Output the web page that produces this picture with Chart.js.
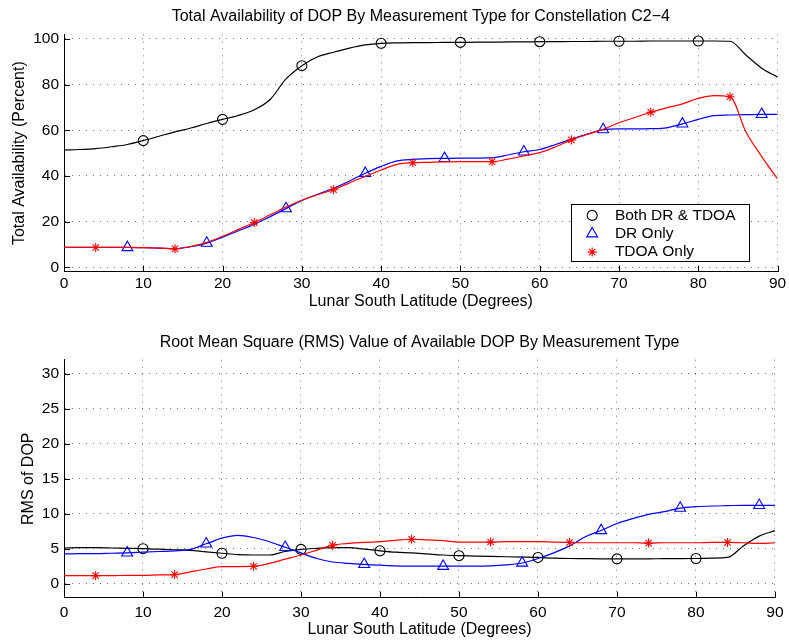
<!DOCTYPE html>
<html><head><meta charset="utf-8">
<script src="https://cdn.jsdelivr.net/npm/chart.js@4.4.1/dist/chart.umd.min.js"></script>
<style>
html,body{margin:0;padding:0;background:#fff;}
#wrap{position:relative;width:789px;height:642px;overflow:hidden;background:#fff}
canvas{position:absolute;left:0}
#c1{top:0}
#c2{top:321px}
</style></head><body>
<div id="wrap"><canvas id="c1" width="789" height="321"></canvas><canvas id="c2" width="789" height="321"></canvas></div>
<script>
// ---- data ----
const latitudes = [0,2,4,6,8,10,12,14,16,18,20,22,24,26,28,30,32,34,36,38,40,42,44,46,48,50,52,54,56,58,60,62,64,66,68,70,72,74,76,78,80,82,84,86,88,90];

const availBoth = [51.4,51.6,52.0,52.8,53.8,55.5,57.4,59.3,61.0,63.0,64.8,66.5,69.0,73.5,82.5,88.3,92.2,94.2,96.0,97.4,98.1,98.3,98.4,98.4,98.5,98.5,98.6,98.6,98.7,98.7,98.8,98.8,98.9,98.9,99.0,99.0,99.0,99.1,99.1,99.1,99.1,99.1,99.0,93.0,87.2,83.3];
const availDR   = [8.7,8.7,8.7,8.7,8.7,8.6,8.4,8.2,9.0,10.6,13.2,16.0,18.8,22.2,25.7,29.3,32.0,34.6,37.8,41.2,44.2,46.6,47.3,47.6,47.7,47.8,47.8,48.0,49.2,50.6,51.6,53.8,56.1,58.3,60.3,60.6,60.6,60.7,61.1,62.8,64.8,66.4,66.7,66.9,67.0,67.0];
const availTDOA = [8.7,8.7,8.7,8.7,8.7,8.6,8.4,8.1,9.2,10.9,13.6,16.6,19.6,23.0,26.4,29.4,31.8,34.0,37.0,39.8,42.6,45.1,45.8,46.0,46.2,46.3,46.3,46.3,47.4,48.8,50.2,52.8,55.8,58.2,60.4,63.3,65.6,67.9,69.8,71.6,74.0,75.2,74.7,59.4,48.5,38.7];

const rmsBoth = [5.1,5.15,5.15,5.1,5.05,5.0,4.95,4.85,4.75,4.55,4.35,4.15,4.1,4.1,4.6,4.9,5.05,5.15,5.15,4.95,4.7,4.5,4.4,4.25,4.1,4.0,3.95,3.9,3.85,3.8,3.75,3.65,3.6,3.58,3.56,3.55,3.55,3.56,3.57,3.58,3.6,3.65,3.75,5.4,6.8,7.6];
const rmsDR   = [4.25,4.3,4.3,4.35,4.4,4.5,4.6,4.7,4.9,5.7,6.5,6.9,6.6,6.0,5.2,4.4,3.6,3.1,2.9,2.76,2.65,2.55,2.5,2.5,2.5,2.5,2.5,2.55,2.7,2.96,3.6,4.4,5.4,6.7,7.6,8.6,9.3,9.9,10.3,10.8,11.0,11.1,11.15,11.2,11.2,11.2];
const rmsTDOA = [1.15,1.15,1.15,1.15,1.2,1.2,1.25,1.3,1.7,2.1,2.45,2.45,2.5,2.9,3.5,4.1,4.8,5.5,5.75,5.9,6.0,6.2,6.35,6.25,6.15,5.95,5.95,5.95,6.0,6.0,6.0,5.95,5.9,5.85,5.85,5.85,5.85,5.8,5.85,5.85,5.85,5.9,5.9,5.85,5.75,5.85];

const markerLatBoth = [10,20,30,40,50,60,70,80];
const markerLatDR   = [8,18,28,38,48,58,68,78,88];
const markerLatTDOA = [4,14,24,34,44,54,64,74,84];

const xTicks = [0,10,20,30,40,50,60,70,80,90];
const yTicksTop = [0,20,40,60,80,100];
const yTicksBottom = [0,5,10,15,20,25,30];

const seriesNames = ['Both DR & TDOA','DR Only','TDOA Only'];
const titleTop = 'Total Availability of DOP By Measurement Type for Constellation C2\u22124';
const titleBottom = 'Root Mean Square (RMS) Value of Available DOP By Measurement Type';
const xLabel = 'Lunar South Latitude (Degrees)';
const yLabelTop = 'Total Availability (Percent)';
const yLabelBottom = 'RMS of DOP';

// ---- styling ----
const FONT = "'Liberation Sans', Arial, Helvetica, sans-serif";
const styles = [
  {color:'#000000', pointStyle:'circle', radius:5, markers:markerLatBoth, order:3},
  {color:'#0000ff', pointStyle:'triangle', radius:6.3, markers:markerLatDR, order:2},
  {color:'#ff0000', pointStyle:'star', radius:4.5, markers:markerLatTDOA, order:1}
];

function makeDatasets(arrs){
  return arrs.map((arr,k)=>{
    const st = styles[k];
    return {
      label: seriesNames[k],
      data: latitudes.map((x,i)=>({x:x, y:arr[i]})),
      borderColor: st.color,
      borderWidth: 1.2,
      cubicInterpolationMode: 'monotone',
      fill: false,
      order: st.order,
      pointStyle: st.pointStyle,
      pointRadius: ctx => (ctx.raw && st.markers.includes(ctx.raw.x)) ? st.radius : 0,
      pointHoverRadius: 0,
      pointBorderColor: st.color,
      pointBackgroundColor: 'rgba(0,0,0,0)',
      pointBorderWidth: 1.1
    };
  });
}

const innerTicks = {
  id: 'innerTicks',
  afterDraw(chart){
    const {ctx, chartArea:a, scales} = chart;
    ctx.save();
    ctx.strokeStyle = '#000';
    ctx.lineWidth = 1;
    ctx.setLineDash([]);
    ctx.beginPath();
    scales.x.ticks.forEach(t=>{
      const px = Math.round(scales.x.getPixelForValue(t.value)) + 0.5;
      ctx.moveTo(px, a.bottom); ctx.lineTo(px, a.bottom - 6);
    });
    scales.y.ticks.forEach(t=>{
      const py = Math.round(scales.y.getPixelForValue(t.value)) + 0.5;
      ctx.moveTo(a.left, py); ctx.lineTo(a.left + 6, py);
    });
    ctx.stroke();
    ctx.restore();
  }
};

function drawMarker(ctx, st, x, y){
  ctx.save();
  ctx.strokeStyle = st.color;
  ctx.fillStyle = 'rgba(0,0,0,0)';
  ctx.lineWidth = 1.1;
  if (Chart.helpers && Chart.helpers.drawPoint) {
    Chart.helpers.drawPoint(ctx, {pointStyle: st.pointStyle, radius: st.radius, borderWidth: 1.1, rotation: 0}, x, y);
  }
  ctx.restore();
}

const boxLegend = {
  id: 'boxLegend',
  afterDraw(chart){
    const {ctx, chartArea:a} = chart;
    const L = a.right - 207, R = a.right - 29.5, T = a.top + 170, B = a.top + 227.5;
    ctx.save();
    ctx.fillStyle = '#fff';
    ctx.fillRect(L, T, R-L, B-T);
    ctx.strokeStyle = '#000';
    ctx.lineWidth = 1;
    ctx.strokeRect(Math.round(L)+0.5, Math.round(T)+0.5, Math.round(R-L), Math.round(B-T));
    ctx.font = '15.5px ' + FONT;
    ctx.textBaseline = 'middle';
    ctx.fillStyle = '#000';
    const rows = [T+11, T+29.3, T+47.7];
    styles.forEach((st,k)=>{
      drawMarker(ctx, st, L + 21.6, rows[k]);
      ctx.fillStyle = '#000';
      ctx.fillText(seriesNames[k], L + 44.3, rows[k]);
    });
    ctx.restore();
  }
};

function makeChart(canvas, o){
  const plugins = [innerTicks];
  if (o.legend) plugins.push(boxLegend);
  return new Chart(canvas, {
    type: 'line',
    data: { datasets: makeDatasets(o.series) },
    plugins: plugins,
    options: {
      responsive: false,
      animation: false,
      devicePixelRatio: 1,
      events: [],
      layout: { padding: {left:0, right:11, top:0, bottom:0} },
      plugins: {
        legend: {display:false},
        tooltip: {enabled:false},
        title: {
          display: true, text: o.title, fullSize: false, color:'#000',
          font: {family: FONT, size: 16, weight: 'normal', lineHeight: 1.2},
          padding: {top: o.titlePadTop, bottom: o.titlePadBottom}
        }
      },
      scales: {
        x: {
          type: 'linear', min: 0, max: 90,
          afterBuildTicks: s => { s.ticks = xTicks.map(v=>({value:v})); },
          afterFit: s => { s.height = o.xHeight; },
          grid: {color:'rgba(0,0,0,0.55)', lineWidth:1, drawTicks:false},
          border: {display:true, color:'#000', width:1, dash:[1,6]},
          ticks: {color:'#000', font:{family:FONT, size:15.5, lineHeight:1.2}, padding:o.xTickPad, maxRotation:0, autoSkip:false},
          title: {display:true, text:xLabel, color:'#000', font:{family:FONT, size:16, lineHeight:1.2}, padding:{top:0, bottom:o.xTitlePad}}
        },
        y: {
          type: 'linear', min: o.ymin, max: o.ymax,
          afterBuildTicks: s => { s.ticks = o.yTicks.map(v=>({value:v})); },
          afterFit: s => { s.width = 64; },
          grid: {color:'rgba(0,0,0,0.55)', lineWidth:1, drawTicks:false},
          border: {display:true, color:'#000', width:1, dash:[1,6]},
          ticks: {color:'#000', font:{family:FONT, size:15.5, lineHeight:1.2}, padding:5, autoSkip:false},
          title: {display:true, text:o.ylabel, color:'#000', font:{family:FONT, size:16, lineHeight:1.2}, padding:{top:o.yTitlePad, bottom:0}}
        }
      }
    }
  });
}

makeChart(document.getElementById('c1'), {
  series: [availBoth, availDR, availTDOA],
  title: titleTop, ylabel: yLabelTop,
  ymin: -2, ymax: 102, yTicks: yTicksTop,
  titlePadTop: 6.9, titlePadBottom: 8.3,
  xHeight: 49.1, xTickPad: 2.8, xTitlePad: 9.4, yTitlePad: 10.4,
  legend: true
});
makeChart(document.getElementById('c2'), {
  series: [rmsBoth, rmsDR, rmsTDOA],
  title: titleBottom, ylabel: yLabelBottom,
  ymin: -2, ymax: 32, yTicks: yTicksBottom,
  titlePadTop: 11.9, titlePadBottom: 7.6,
  xHeight: 44.3, xTickPad: 5.4, xTitlePad: 2.4, yTitlePad: 19.4,
  legend: false
});
</script>
</body></html>
